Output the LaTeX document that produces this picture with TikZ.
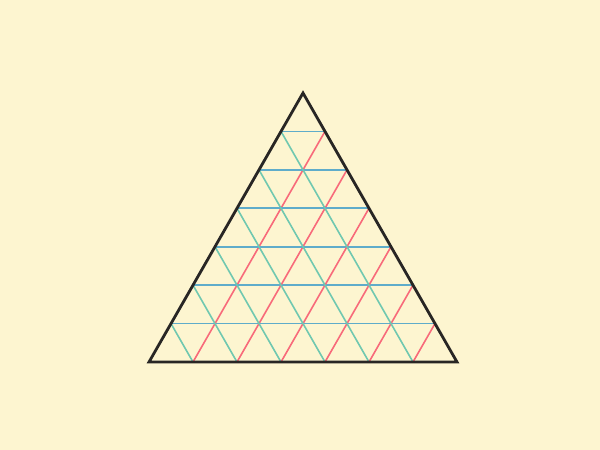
\documentclass[tikz,border=0pt]{standalone}
\usepackage{tikz}
\usetikzlibrary{calc}
\begin{document}
\begin{tikzpicture}[x=0.5pt, y=-0.5pt]
			% Define colors
			\definecolor{paper_bg}{RGB}{253, 245, 208}
			\definecolor{edge_ink}{RGB}{40, 38, 36}
			\definecolor{row_blue}{RGB}{95, 172, 202}
			\definecolor{left_red}{RGB}{248, 106, 122}
			\definecolor{right_green}{RGB}{112, 200, 176}

			% Styles
			\tikzstyle{outline} = [draw=edge_ink, line width=1.4pt, line join=miter]
			\tikzstyle{row_line} = [draw=row_blue, line width=0.85pt]
			\tikzstyle{red_line} = [draw=left_red, line width=0.8pt]
			\tikzstyle{green_line} = [draw=right_green, line width=0.8pt]

			% Number of divisions per side
			\def\divs{7}

			% Background and frame
			\fill[paper_bg] (0, 0) rectangle (600, 450);
			\useasboundingbox (0, 0) rectangle (600, 450);

			% Triangle corners
			\coordinate (apex) at (303, 93);
			\coordinate (left) at (149, 362);
			\coordinate (right) at (457, 362);

			% Grid lines
			\foreach \i in {1,...,6} {
				\pgfmathsetmacro{\t}{\i/\divs}
				\draw[row_line] ($(left)!\t!(apex)$) -- ($(right)!\t!(apex)$);
				\draw[green_line] ($(left)!\t!(right)$) -- ($(left)!\t!(apex)$);
				\draw[red_line] ($(left)!\t!(right)$) -- ($(apex)!\t!(right)$);
			}

			% Triangle outline
			\draw[outline] (apex) -- (right) -- (left) -- cycle;

		\end{tikzpicture}
\end{document}
